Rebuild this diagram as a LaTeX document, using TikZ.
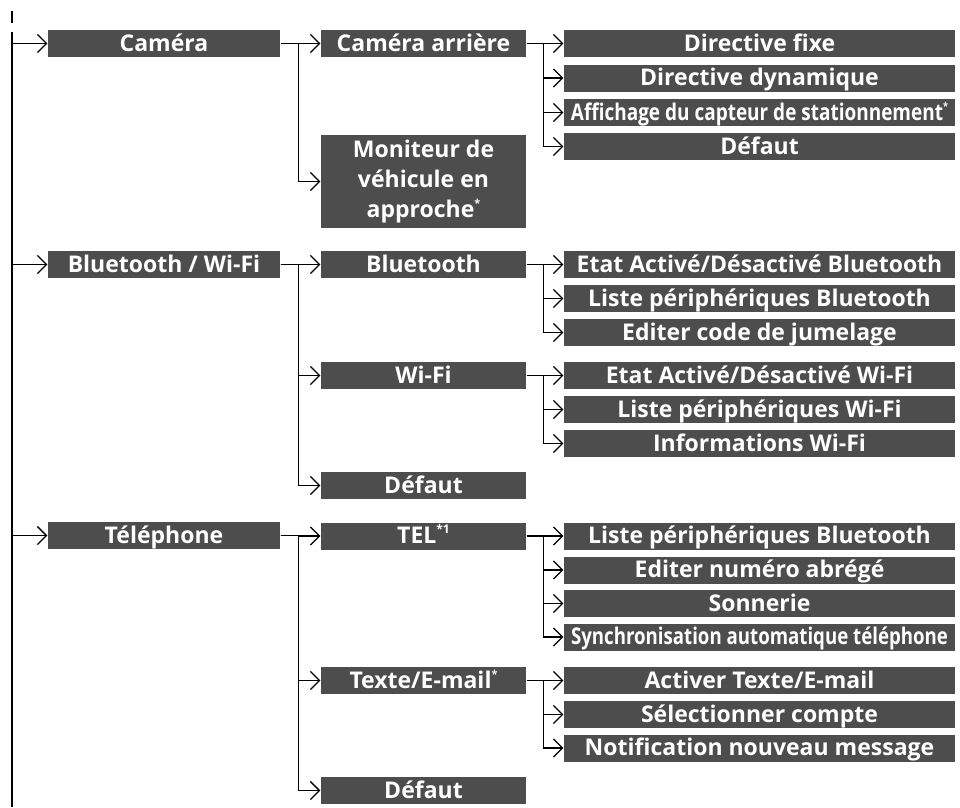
\documentclass[tikz,border=0pt]{standalone}
\usepackage{fontspec}
\setmainfont{Open Sans}
\usetikzlibrary{arrows.meta}
\definecolor{boxgray}{HTML}{4D4D4D}
\newsavebox\lblbox
\newcommand\fitlbl[2]{\sbox\lblbox{#2}\ifdim\wd\lblbox>#1\relax\resizebox{#1}{\ht\lblbox}{\usebox\lblbox}\else\usebox\lblbox\fi}
\newcommand\sast{\raisebox{0.42em}{\fontsize{11}{11}\selectfont *}}
\newcommand\sastone{\raisebox{0.42em}{\fontsize{12}{12}\selectfont *1}}
\begin{document}
\begin{tikzpicture}[x=1pt,y=-1pt,line width=1.3pt,
  menubase/.style={fill=boxgray,text=white,font=\fontsize{23}{30}\selectfont\bfseries,inner sep=0pt},
  menubox/.style={menubase,minimum height=27pt,text height=19pt,text depth=4pt},
  cone/.style={menubox,minimum width=232pt},
  ctwo/.style={menubox,minimum width=205pt},
  cthree/.style={menubox,minimum width=391pt},
  arr/.style={-{Straight Barb[length=9pt,width=18pt]}}]
\useasboundingbox (0,0) rectangle (960,807);
% main spine
\coordinate (ticka) at (12,11);
\coordinate (tickb) at (12,23);
\coordinate (mtop) at (12,32);
\coordinate (mbot) at (12,807);
\draw (ticka) -- (tickb);
\draw (mtop) -- (mbot);
% column 1
\node[cone] (cam) at (164,43.5) {Caméra};
\node[cone] (bw)  at (164,264.5) {Bluetooth / Wi-Fi};
\node[cone] (tel) at (164,535.5) {Téléphone};
% column 2
\node[ctwo] (cama) at (423.5,43.5) {Caméra arrière};
\node[menubase,minimum width=205pt,minimum height=93pt,align=center] (mon) at (423.5,181.5) {Moniteur de\\véhicule en\\approche\sast};
\node[ctwo] (bt)   at (423.5,264.5) {Bluetooth};
\node[ctwo] (wf)   at (423.5,375.5) {Wi-Fi};
\node[ctwo] (bdef) at (423.5,485.5) {Défaut};
\node[ctwo] (tl)   at (423.5,536) {TEL\sastone};
\node[ctwo] (tx)   at (423.5,680.5) {Texte/E-mail\sast};
\node[ctwo] (tdef) at (423.5,790.5) {Défaut};
% column 3
\node[cthree] (d1) at (759.5,43.5) {\fitlbl{383pt}{Directive fixe}};
\node[cthree] (d2) at (759.5,78) {\fitlbl{383pt}{Directive dynamique}};
\node[cthree] (d3) at (759.5,112.5) {\fitlbl{377pt}{Affichage du capteur de stationnement\sast}};
\node[cthree] (d4) at (759.5,146.5) {\fitlbl{383pt}{Défaut}};
\node[cthree] (b1) at (759.5,264.5) {\fitlbl{383pt}{Etat Activé/Désactivé Bluetooth}};
\node[cthree] (b2) at (759.5,298.5) {\fitlbl{383pt}{Liste périphériques Bluetooth}};
\node[cthree] (b3) at (759.5,332.5) {\fitlbl{383pt}{Editer code de jumelage}};
\node[cthree] (w1) at (759.5,375.5) {\fitlbl{383pt}{Etat Activé/Désactivé Wi-Fi}};
\node[cthree] (w2) at (759.5,409.5) {\fitlbl{383pt}{Liste périphériques Wi-Fi}};
\node[cthree] (w3) at (759.5,443.5) {\fitlbl{383pt}{Informations Wi-Fi}};
\node[cthree] (t1) at (759.5,536) {\fitlbl{383pt}{Liste périphériques Bluetooth}};
\node[cthree] (t2) at (759.5,570) {\fitlbl{383pt}{Editer numéro abrégé}};
\node[cthree] (t3) at (759.5,603.5) {\fitlbl{383pt}{Sonnerie}};
\node[cthree] (t4) at (759.5,637) {\fitlbl{377pt}{Synchronisation automatique téléphone}};
\node[cthree] (x1) at (759.5,680.5) {\fitlbl{383pt}{Activer Texte/E-mail}};
\node[cthree] (x2) at (759.5,714.5) {\fitlbl{383pt}{Sélectionner compte}};
\node[cthree] (x3) at (759.5,748) {\fitlbl{383pt}{Notification nouveau message}};
% connectors from spine
\foreach \n in {cam,bw,tel} \draw[arr] (mtop |- \n.west) -- (\n.west);
% column 1 -> column 2
\foreach \n in {cama,mon} \draw[arr] (cam.east) -- ++(18,0) |- (\n.west);
\foreach \n in {bt,wf,bdef} \draw[arr] (bw.east) -- ++(18,0) |- (\n.west);
\foreach \n in {tl,tx,tdef} \draw[arr] (tel.east) -- ++(18,0) |- (\n.west);
% column 2 -> column 3
\foreach \n in {d1,d2,d3,d4} \draw[arr] (cama.east) -- ++(17,0) |- (\n.west);
\foreach \n in {b1,b2,b3} \draw[arr] (bt.east) -- ++(17,0) |- (\n.west);
\foreach \n in {w1,w2,w3} \draw[arr] (wf.east) -- ++(17,0) |- (\n.west);
\foreach \n in {t1,t2,t3,t4} \draw[arr] (tl.east) -- ++(17,0) |- (\n.west);
\foreach \n in {x1,x2,x3} \draw[arr] (tx.east) -- ++(17,0) |- (\n.west);
\end{tikzpicture}
\end{document}
